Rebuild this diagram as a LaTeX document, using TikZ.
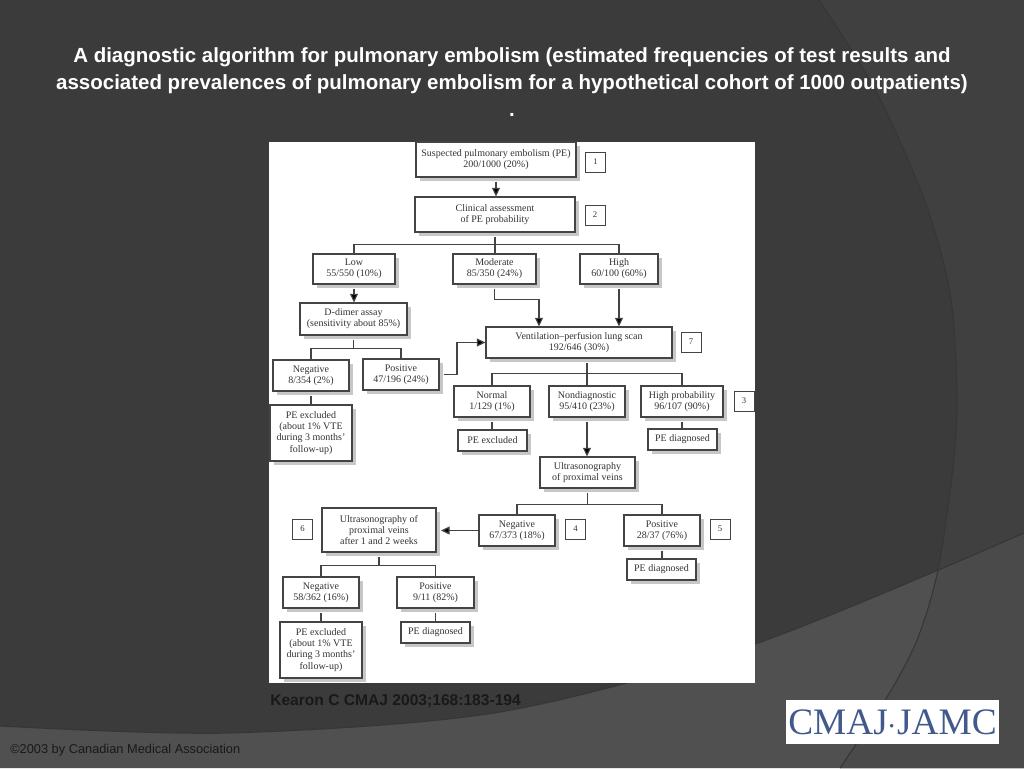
\documentclass[tikz,border=0pt]{standalone}
\usepackage{fontspec}
\setmainfont{Liberation Serif}
\newfontfamily\slidefont{Liberation Sans}
\usetikzlibrary{arrows.meta,shadows}
\definecolor{slidedark}{HTML}{3B3B3B}
\definecolor{slidearc}{HTML}{404040}
\definecolor{slideband}{HTML}{505050}
\definecolor{slidebandarc}{HTML}{4A4A4A}
\definecolor{slideedge}{HTML}{363636}
\definecolor{logoblue}{HTML}{41598C}
\definecolor{flowink}{HTML}{444444}
\tikzset{
  boxsize/.style 2 args={minimum width=#1*0.75pt,minimum height=#2*0.75pt},
  flowbox/.style={draw=flowink,line width=0.85pt,fill=white,text=black!80,inner sep=0pt,align=center,
    font=\fontsize{7.5}{8.3}\selectfont,
    drop shadow={shadow xshift=3pt,shadow yshift=-3pt,fill=black!22,opacity=1}},
  tagbox/.style={draw=flowink,line width=0.7pt,fill=white,text=black!80,inner sep=0pt,
    font=\fontsize{6.5}{7}\selectfont,boxsize={20}{20}},
  flowline/.style={draw=flowink,line width=0.9pt},
  belowbox/.style={flowline,shorten <=3pt},
  flowarrow/.style={belowbox,-{Triangle[length=6.5pt,width=6pt,fill=black]}}
}
\def\arcedge{plot[smooth] coordinates {(819,0) (877,93) (927,207) (951,300) (957,400) (953,467) (938,570) (917,640) (887,697) (840,768)}}
\def\bandedge{plot[smooth] coordinates {(0,726) (229,733) (500,712) (755,644) (1024,533)}}
\begin{document}
\begin{tikzpicture}[x=0.75pt,y=-0.75pt]
  \useasboundingbox (0,0) rectangle (1024,768);
  %\draw[very thin,lightgray] (0,0) grid (1024,768);
  \fill[slidedark] (0,0) rectangle (1024,768);
  \fill[slidearc] \arcedge -- (1024,768) -- (1024,0) -- cycle;
  \fill[slideband] \bandedge -- (1024,768) -- (0,768) -- cycle;
  \begin{scope}
    \clip \bandedge -- (1024,768) -- (0,768) -- cycle;
    \fill[slidebandarc] \arcedge -- (1024,768) -- (1024,0) -- cycle;
  \end{scope}
  \draw[slideedge,line width=0.8pt] \arcedge;
  \draw[slideedge,line width=0.8pt] \bandedge;

  \node[fill=white,minimum width=486*0.75pt,minimum height=541*0.75pt,inner sep=0pt] (panel) at (512,412.5) {};
  \node[text=white,align=center,font=\slidefont\bfseries\fontsize{15.36}{20.25}\selectfont] (title) at (512,82)
    {A diagnostic algorithm for pulmonary embolism (estimated frequencies of test results and\\
     associated prevalences of pulmonary embolism for a hypothetical cohort of 1000 outpatients)\\.};

  \node[flowbox,boxsize={160}{35}] (suspected) at (496,159.5) {Suspected pulmonary embolism (PE)\\200/1000 (20\%)};
  \node[tagbox] (tagone) at (595.5,162) {1};
  \node[flowbox,boxsize={160}{35}] (clinical) at (495,214.5) {Clinical assessment\\of PE probability};
  \node[tagbox] (tagtwo) at (595,215) {2};
  \node[flowbox,boxsize={82}{30}] (low) at (354,269) {Low\\55/550 (10\%)};
  \node[flowbox,boxsize={83}{30}] (moderate) at (494.5,269) {Moderate\\85/350 (24\%)};
  \node[flowbox,boxsize={78}{30}] (high) at (619,269) {High\\60/100 (60\%)};
  \node[flowbox,boxsize={107}{32}] (ddimer) at (353.5,319) {D-dimer assay\\(sensitivity about 85\%)};
  \node[flowbox,boxsize={186}{31}] (vent) at (579,342.5) {Ventilation--perfusion lung scan\\192/646 (30\%)};
  \node[tagbox] (tagseven) at (691,342) {7};
  \node[flowbox,boxsize={76}{31}] (dneg) at (311,375.5) {Negative\\8/354 (2\%)};
  \node[flowbox,boxsize={76}{31}] (dpos) at (401,374.5) {Positive\\47/196 (24\%)};
  \node[flowbox,boxsize={82}{56}] (dexcl) at (311,433) {PE excluded\\(about 1\% VTE\\during 3 months'\\follow-up)};
  \node[flowbox,boxsize={76}{31}] (normal) at (492,401.5) {Normal\\1/129 (1\%)};
  \node[flowbox,boxsize={76}{31}] (nondiag) at (587,401.5) {Nondiagnostic\\95/410 (23\%)};
  \node[flowbox,boxsize={82}{31}] (highprob) at (682,401.5) {High probability\\96/107 (90\%)};
  \node[tagbox] (tagthree) at (744,401) {3};
  \node[flowbox,boxsize={69}{21}] (nexcl) at (492.5,440.5) {PE excluded};
  \node[flowbox,boxsize={69}{21}] (hdiag) at (682.5,439.5) {PE diagnosed};
  \node[flowbox,boxsize={95}{31}] (ultra) at (587.5,472.5) {Ultrasonography\\of proximal veins};
  \node[flowbox,boxsize={114}{44}] (ultratwo) at (379,530) {Ultrasonography of\\proximal veins\\after 1 and 2 weeks};
  \node[tagbox] (tagsix) at (302.5,529) {6};
  \node[flowbox,boxsize={76}{31}] (uneg) at (517,530.5) {Negative\\67/373 (18\%)};
  \node[tagbox] (tagfour) at (575.5,529) {4};
  \node[flowbox,boxsize={76}{31}] (upos) at (662,530.5) {Positive\\28/37 (76\%)};
  \node[tagbox] (tagfive) at (720,529) {5};
  \node[flowbox,boxsize={69}{21}] (udiag) at (661.5,569.5) {PE diagnosed};
  \node[flowbox,boxsize={76}{31}] (tneg) at (321,592.5) {Negative\\58/362 (16\%)};
  \node[flowbox,boxsize={77}{31}] (tpos) at (435.5,592.5) {Positive\\9/11 (82\%)};
  \node[flowbox,boxsize={82}{56}] (texcl) at (321,650) {PE excluded\\(about 1\% VTE\\during 3 months'\\follow-up)};
  \node[flowbox,boxsize={69}{21}] (tdiag) at (435.5,632.5) {PE diagnosed};

  \coordinate (clinicaljoin) at (495,244.5);
  \coordinate (modbend) at (539,299.5);
  \coordinate (ddimerjoin) at (353.5,348.5);
  \coordinate (posbend) at (457,342.5);
  \coordinate (ventjoin) at (587,373.5);
  \coordinate (ultrajoin) at (587.5,504.5);
  \coordinate (ultratip) at (441,530.5);
  \coordinate (ultratwojoin) at (379,565.5);

  \draw[flowarrow] (suspected.south) -- (suspected.south |- clinical.north);
  \draw[belowbox] (clinical.south) -- (clinicaljoin);
  \draw[flowline] (low.north) |- (clinicaljoin) -| (high.north);
  \draw[flowline] (clinicaljoin) -- (moderate.north -| clinicaljoin);
  \draw[flowarrow] (low.south) -- (ddimer.north -| low.south);
  \draw[flowarrow] (moderate.south) |- (modbend) -- (modbend |- vent.north);
  \draw[flowarrow] (high.south) -- (high.south |- vent.north);
  \draw[belowbox] (ddimer.south) -- (ddimerjoin);
  \draw[flowline] (dneg.north) |- (ddimerjoin) -| (dpos.north);
  \draw[belowbox] (dneg.south) -- (dexcl.north);
  \draw[flowarrow] (dpos.east) -| (posbend) -- (vent.west);
  \draw[belowbox] (ventjoin |- vent.south) -- (ventjoin);
  \draw[flowline] (normal.north) |- (ventjoin) -| (highprob.north);
  \draw[flowline] (ventjoin) -- (nondiag.north);
  \draw[belowbox] (normal.south) -- (nexcl.north -| normal.south);
  \draw[belowbox] (highprob.south) -- (hdiag.north -| highprob.south);
  \draw[flowarrow] (nondiag.south) -- (ultra.north -| nondiag.south);
  \draw[belowbox] (ultra.south) -- (ultrajoin);
  \draw[flowline] (uneg.north) |- (ultrajoin) -| (upos.north);
  \draw[flowarrow,shorten <=0pt] (uneg.west) -- (ultratip);
  \draw[belowbox] (upos.south) -- (udiag.north -| upos.south);
  \draw[belowbox] (ultratwo.south) -- (ultratwojoin);
  \draw[flowline] (tneg.north) |- (ultratwojoin) -| (tpos.north);
  \draw[belowbox] (tneg.south) -- (texcl.north);
  \draw[belowbox] (tpos.south) -- (tdiag.north);

  \node[anchor=west,inner sep=0pt,text=black!90,font=\slidefont\bfseries\fontsize{11.7}{13}\selectfont] (cite) at (270,701.5) {Kearon C CMAJ 2003;168:183-194};
  \node[anchor=west,inner sep=0pt,text=black!90,font=\slidefont\fontsize{9.6}{11}\selectfont] (credit) at (10,750) {©2003 by Canadian Medical Association};
  \node[fill=white,text=logoblue,inner sep=0pt,minimum width=213*0.75pt,minimum height=44*0.75pt,font=\fontsize{28}{30}\selectfont] (logo) at (892.5,722) {CMAJ$\cdot$JAMC};
\end{tikzpicture}
\end{document}
